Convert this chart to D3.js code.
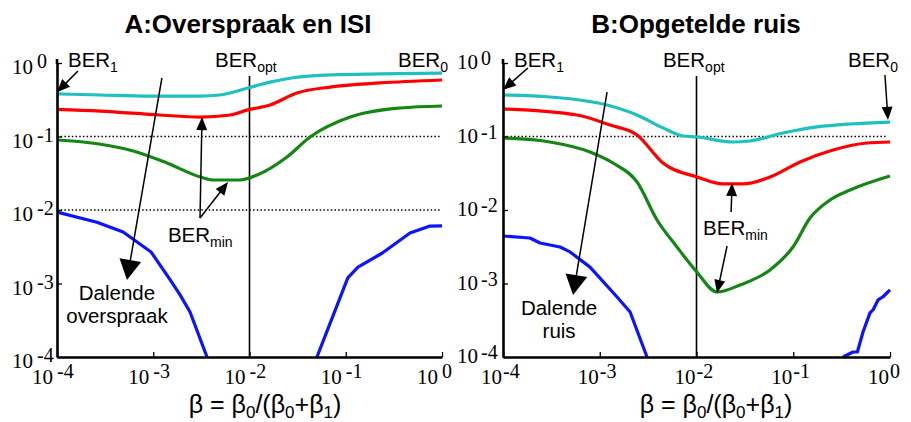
<!DOCTYPE html>
<html><head><meta charset="utf-8">
<script src="https://cdn.jsdelivr.net/npm/d3@7"></script>
<style>body{margin:0;background:#fff}svg{display:block}</style>
</head><body>
<svg id="c" width="911" height="422"></svg>
<script>
// ---------- data (β, BER) ----------
const majorTicks = [1e-4, 1e-3, 1e-2, 1e-1, 1];
const tickExps = ["-4", "-3", "-2", "-1", "0"];

const A_cyan = [[1e-4,0.38],[2.8e-4,0.367],[9.2e-4,0.355],[3.1e-3,0.355],[4.9e-3,0.367],[9.6e-3,0.457],[0.0163,0.55],[0.0283,0.63],[0.074,0.69],[0.227,0.71],[1,0.73]];
const A_red = [[1e-4,0.234],[2.8e-4,0.222],[1.17e-3,0.196],[3.1e-3,0.184],[6.3e-3,0.196],[9.6e-3,0.23],[0.0163,0.268],[0.031,0.39],[0.0686,0.47],[0.227,0.535],[1,0.587]];
const A_green = [[1e-4,0.0896],[1.86e-4,0.0842],[6.2e-4,0.0635],[1.39e-3,0.0436],[3.1e-3,0.0281],[4.2e-3,0.0256],[7.96e-3,0.0256],[0.012,0.0299],[0.0245,0.0526],[0.0426,0.0985],[0.111,0.184],[0.367,0.244],[1,0.26]];
const A_blue1 = [[1e-4,0.0094],[2.6e-4,0.0068],[4.86e-4,0.00502],[9.5e-4,0.00268],[1.5e-3,0.00112],[1.9e-3,7.0e-4],[2.41e-3,4.1e-4],[3.62e-3,1e-4]];
const A_blue2 = [[0.0502,1e-4],[0.105,1.19e-3],[0.134,1.67e-3],[0.24,2.6e-3],[0.465,4.87e-3],[0.75,6.05e-3],[1,6.1e-3]];

const B_cyan = [[1e-4,0.367],[3.06e-4,0.345],[1.19e-3,0.268],[2.43e-3,0.196],[4.5e-3,0.131],[7.25e-3,0.1016],[0.0101,0.0985],[0.0238,0.0842],[0.0357,0.0869],[0.0783,0.1116],[0.176,0.135],[0.386,0.148],[1,0.157]];
const B_red = [[1e-4,0.237],[5.82e-4,0.196],[1.28e-3,0.143],[2.43e-3,0.105],[4.5e-3,0.0436],[0.0101,0.0281],[0.0188,0.0226],[0.0303,0.0226],[0.0575,0.0281],[0.1175,0.045],[0.258,0.0655],[0.578,0.0816],[1,0.0842]];
const B_green = [[1e-4,0.0955],[3.06e-4,0.0842],[7.93e-4,0.0615],[1.37e-3,0.0436],[2.43e-3,0.024],[3.91e-3,0.00731],[6.28e-3,0.00314],[0.0101,0.00143],[0.0163,7.66e-4],[0.0282,9.55e-4],[0.0575,1.53e-3],[0.0993,0.00314],[0.149,0.00778],[0.24,0.0137],[0.386,0.0187],[1,0.029]];
const B_blue1 = [[1e-4,4.43e-3],[1.9e-4,4.16e-3],[2.41e-4,3.56e-3],[3.88e-4,3.14e-3],[4.93e-4,2.69e-3],[7.93e-4,1.67e-3],[1.51e-3,6.55e-4],[2.06e-3,4.09e-4],[3.08e-3,1e-4]];
const B_blue2 = [[0.327,1e-4],[0.415,1.17e-4],[0.46,1.17e-4],[0.526,2.19e-4],[0.621,3.98e-4],[0.667,4.37e-4],[0.752,5.97e-4],[0.847,6.6e-4],[1,8.17e-4]];

const seriesColors = ["#20c0c0", "#ff0000", "#138613", "#0a14ff", "#0a14ff"];

// annotations in data coordinates
const A_arrows = [
  {from:[1.65e-4,0.78], to:[1e-4,0.40], big:false},
  {from:[1.23e-3,0.625], to:[5.33e-4,1.12e-3], big:true},
  {from:[3.06e-3,7.78e-3], to:[3.21e-3,0.184], big:false},
  {from:[3.06e-3,7.78e-3], to:[5.98e-3,0.024], big:false}
];
const B_arrows = [
  {from:[1.81e-4,0.855], to:[1e-4,0.43], big:false},
  {from:[0.887,0.687], to:[0.953,0.168], big:false},
  {from:[1.19e-3,0.403], to:[5.3e-4,6.98e-4], big:true},
  {from:[0.0228,9.4e-3], to:[0.0233,0.0233], big:false},
  {from:[0.0207,3.24e-3], to:[0.0163,7.43e-4], big:false}
];
const A_labels = [
  {at:[1.3e-4,0.88], main:"BER", sub:"1", anchor:"start"},
  {at:[4.38e-3,0.88], main:"BER", sub:"opt", anchor:"start"},
  {at:[0.349,0.88], main:"BER", sub:"0", anchor:"start"},
  {at:[1.42e-3,3.67e-3], main:"BER", sub:"min", anchor:"start"},
  {at:[4.2e-4,5.97e-4], main:"Dalende", sub:"", anchor:"middle"},
  {at:[4.2e-4,2.9e-4], main:"overspraak", sub:"", anchor:"middle"}
];
const B_labels = [
  {at:[1.3e-4,0.88], main:"BER", sub:"1", anchor:"start"},
  {at:[4.5e-3,0.88], main:"BER", sub:"opt", anchor:"start"},
  {at:[0.368,0.88], main:"BER", sub:"0", anchor:"start"},
  {at:[0.0117,4.57e-3], main:"BER", sub:"min", anchor:"start"},
  {at:[3.8e-4,3.73e-4], main:"Dalende", sub:"", anchor:"middle"},
  {at:[3.8e-4,1.8e-4], main:"ruis", sub:"", anchor:"middle"}
];

const panels = [
  {title:"A:Overspraak en ISI", x0:57, x1:442, titleX:248, labelX:265,
   series:[A_cyan,A_red,A_green,A_blue1,A_blue2], dotted:[0.1,0.01], dotEnd:0.95,
   optTop:0.666, arrows:A_arrows, labels:A_labels,
   xl:{tenEnd:-4, expStart:0}, yl:{tenEnd:-24, expStart:-20, tenDy:11, expDy:5}},
  {title:"B:Opgetelde ruis", x0:503, x1:890, titleX:696, labelX:716,
   series:[B_cyan,B_red,B_green,B_blue1,B_blue2], dotted:[0.1], dotEnd:0.9,
   optTop:0.666, arrows:B_arrows, labels:B_labels,
   xl:{tenEnd:-1, expStart:0}, yl:{tenEnd:-25, expStart:-22, tenDy:6, expDy:2}}
];

// ---------- drawing ----------
const svg = d3.select("#c");
const yBottom = 357, yTop = 63;
const sans = "'Liberation Sans', Arial, sans-serif";
const serif = "'Liberation Serif', 'Times New Roman', serif";

const minorTicks = [];
for (let d = -4; d < 0; d++) for (let k = 2; k <= 9; k++) minorTicks.push(k * Math.pow(10, d));

function arrow(g, x1, y1, x2, y2, big) {
  const L = big ? 20 : 13, W = big ? 22 : 11;
  const dx = x2 - x1, dy = y2 - y1, len = Math.hypot(dx, dy);
  const ux = dx / len, uy = dy / len;
  const bx = x2 - ux * L, by = y2 - uy * L;
  g.append("line").attr("x1", x1).attr("y1", y1).attr("x2", bx + ux * 2).attr("y2", by + uy * 2)
    .attr("stroke", "#000").attr("stroke-width", 1.5);
  g.append("path")
    .attr("d", `M${x2},${y2}L${bx - uy * W / 2},${by + ux * W / 2}L${bx + uy * W / 2},${by - ux * W / 2}Z`)
    .attr("fill", "#000");
}

panels.forEach((p, i) => {
  const x = d3.scaleLog().domain([1e-4, 1]).range([p.x0, p.x1]);
  const y = d3.scaleLog().domain([1e-4, 1]).range([yBottom, yTop]);
  const g = svg.append("g");

  const clipId = "clip" + i;
  svg.append("clipPath").attr("id", clipId).append("rect")
    .attr("x", p.x0).attr("y", yTop - 10).attr("width", p.x1 - p.x0 + 3).attr("height", yBottom - yTop + 10);

  // title
  g.append("text").attr("x", p.titleX).attr("y", 33).attr("text-anchor", "middle")
    .attr("font-family", sans).attr("font-weight", "bold").attr("font-size", 26).text(p.title);

  // dotted reference lines
  p.dotted.forEach(v => {
    g.append("line").attr("x1", x(1e-4)).attr("x2", x(p.dotEnd)).attr("y1", y(v)).attr("y2", y(v))
      .attr("stroke", "#000").attr("stroke-width", 1.4).attr("stroke-dasharray", "1.5,2.2");
  });

  // BER_opt vertical line
  g.append("line").attr("x1", x(0.01)).attr("x2", x(0.01)).attr("y1", y(p.optTop)).attr("y2", y(1e-4))
    .attr("stroke", "#000").attr("stroke-width", 1.6);

  // curves
  const smooth = d3.line().x(d => x(d[0])).y(d => y(d[1])).curve(d3.curveMonotoneX);
  const straight = d3.line().x(d => x(d[0])).y(d => y(d[1])).curve(d3.curveLinear);
  const cg = g.append("g").attr("clip-path", `url(#${clipId})`);
  p.series.forEach((s, j) => {
    cg.append("path").datum(s).attr("d", j >= 3 ? straight : smooth).attr("fill", "none")
      .attr("stroke", seriesColors[j]).attr("stroke-width", 3.2).attr("stroke-linejoin", "round");
  });

  // axes
  const xa = g.append("g").attr("transform", `translate(0,${yBottom})`);
  xa.call(d3.axisBottom(x).tickValues(minorTicks).tickSize(-3).tickFormat(""));
  xa.call(d3.axisBottom(x).tickValues(majorTicks).tickSizeInner(-5).tickSizeOuter(0).tickFormat(""));
  const ya = g.append("g").attr("transform", `translate(${p.x0},0)`);
  ya.call(d3.axisLeft(y).tickValues(minorTicks).tickSize(-3).tickFormat(""));
  ya.call(d3.axisLeft(y).tickValues(majorTicks).tickSizeInner(-5).tickSizeOuter(0).tickFormat(""));
  g.selectAll(".domain").attr("stroke", "#000").attr("stroke-width", 2.6);
  g.selectAll(".tick line").attr("stroke", "#000").attr("stroke-width", 1.3);
  g.append("line").attr("x1", p.x0).attr("x2", p.x0).attr("y1", yTop - 4).attr("y2", yTop + 1)
    .attr("stroke", "#000").attr("stroke-width", 2.6);

  // tick labels (10 with superscript exponent)
  majorTicks.forEach((v, k) => {
    const tx = x(v);
    g.append("text").attr("x", tx + p.xl.tenEnd).attr("y", 384).attr("text-anchor", "end")
      .attr("font-family", serif).attr("font-size", 21).text("10");
    g.append("text").attr("x", tx + p.xl.expStart).attr("y", 378).attr("text-anchor", "start")
      .attr("font-family", serif).attr("font-size", 20).text(tickExps[k]);
    const ty = y(v);
    g.append("text").attr("x", p.x0 + p.yl.tenEnd).attr("y", ty + p.yl.tenDy).attr("text-anchor", "end")
      .attr("font-family", serif).attr("font-size", 21).text("10");
    g.append("text").attr("x", p.x0 + p.yl.expStart).attr("y", ty + p.yl.expDy).attr("text-anchor", "start")
      .attr("font-family", serif).attr("font-size", 20).text(tickExps[k]);
  });

  // x axis label
  const xl = g.append("text").attr("x", p.labelX).attr("y", 413).attr("text-anchor", "middle")
    .attr("font-family", sans).attr("font-size", 25);
  const parts = [["β = β",""],["0","s"],["/(β",""],["0","s"],["+β",""],["1","s"],[")",""]];
  parts.forEach(([t, s]) => {
    const ts = xl.append("tspan").text(t);
    if (s) ts.attr("font-size", 17).attr("baseline-shift", "-5");
  });

  // annotation labels
  p.labels.forEach(l => {
    const t = g.append("text").attr("x", x(l.at[0])).attr("y", y(l.at[1]))
      .attr("text-anchor", l.anchor).attr("font-family", sans).attr("font-size", 20.5);
    t.append("tspan").text(l.main);
    if (l.sub) t.append("tspan").attr("font-size", 14).attr("dy", 5).text(l.sub);
  });

  // arrows
  p.arrows.forEach(a => arrow(g, x(a.from[0]), y(a.from[1]), x(a.to[0]), y(a.to[1]), a.big));
});
</script>
</body></html>
